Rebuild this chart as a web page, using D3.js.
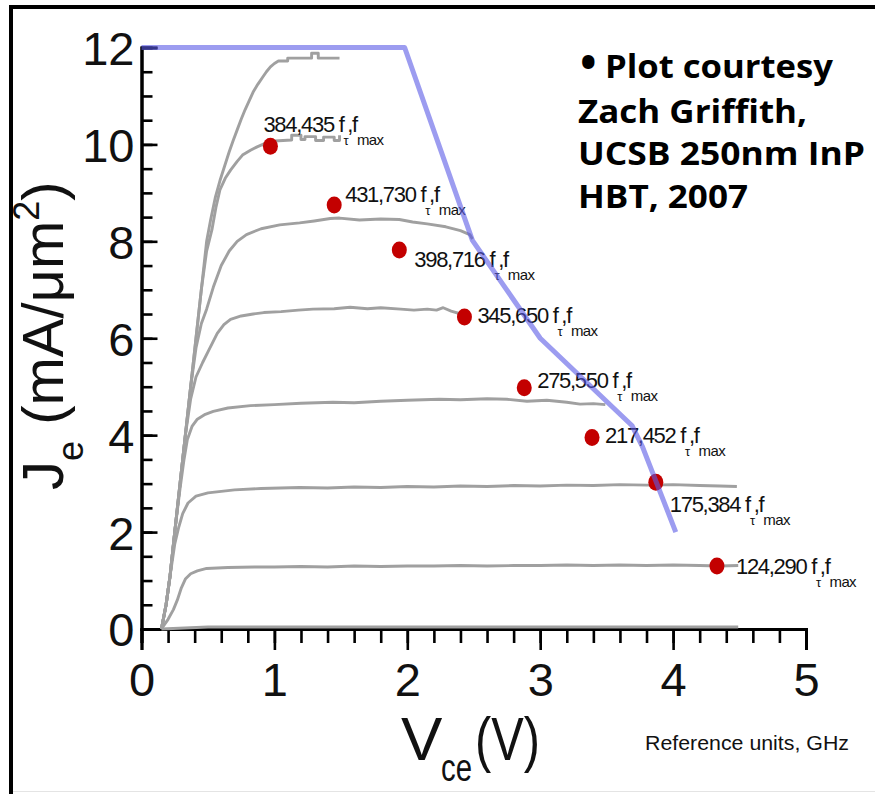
<!DOCTYPE html>
<html>
<head>
<meta charset="utf-8">
<script src="https://cdn.jsdelivr.net/npm/d3@7"></script>
<style>
  body { margin: 0; background: #fff; }
  svg { display: block; }
</style>
</head>
<body>
<svg id="chart" width="875" height="794"></svg>
<script>
// ---- data ----------------------------------------------------------------
const vceTicks = [0, 1, 2, 3, 4, 5];
const jeTicks = [0, 2, 4, 6, 8, 10, 12];

// Measured Je–Vce curves, [Vce (V), Je (mA/um^2)]
const curveJ118 = [[0.15,0],[0.185,0.5],[0.215,1.1],[0.25,2.0],[0.29,3.0],[0.33,4.0],[0.37,5.0],[0.41,6.0],[0.45,7.0],[0.49,8.0],[0.52,8.44],[0.555,8.9],[0.59,9.25],[0.625,9.55],[0.66,9.85],[0.69,10.08],[0.72,10.3],[0.75,10.52],[0.78,10.72],[0.81,10.9],[0.84,11.08],[0.875,11.24],[0.91,11.38],[0.94,11.5],[0.97,11.6],[1.0,11.67],[1.03,11.72],[1.1,11.72],[1.1,11.78],[1.28,11.78],[1.28,11.88],[1.33,11.88],[1.33,11.78],[1.49,11.78]];
const curveJ101 = [[0.15,0],[0.185,0.5],[0.215,1.1],[0.25,2.0],[0.29,3.0],[0.33,4.0],[0.37,5.0],[0.41,6.0],[0.45,7.0],[0.49,7.8],[0.53,8.24],[0.56,8.7],[0.59,9.06],[0.63,9.3],[0.67,9.47],[0.72,9.65],[0.76,9.78],[0.82,9.88],[0.87,9.95],[0.93,10.02],[1.0,10.07],[1.13,10.09],[1.13,10.19],[1.2,10.19],[1.2,10.1],[1.23,10.1],[1.23,10.16],[1.31,10.16],[1.31,10.08],[1.37,10.08],[1.37,10.15],[1.45,10.15],[1.45,10.08],[1.49,10.08],[1.49,10.19]];
const curveJ84 = [[0.15,0],[0.185,0.5],[0.215,1.1],[0.25,2.0],[0.29,3.0],[0.33,4.0],[0.37,5.0],[0.41,5.8],[0.45,6.3],[0.49,6.6],[0.54,7.05],[0.6,7.5],[0.66,7.8],[0.72,8.0],[0.79,8.14],[0.9,8.26],[1.04,8.34],[1.19,8.38],[1.3,8.42],[1.42,8.47],[1.49,8.48],[1.64,8.44],[1.8,8.46],[1.94,8.45],[2.04,8.4],[2.15,8.36],[2.29,8.3],[2.4,8.22],[2.47,8.14],[2.49,8.05]];
const curveJ66 = [[0.15,0],[0.185,0.5],[0.215,1.1],[0.25,2.0],[0.29,3.0],[0.33,4.0],[0.37,4.75],[0.41,5.2],[0.46,5.5],[0.5,5.72],[0.57,6.1],[0.62,6.28],[0.67,6.39],[0.75,6.46],[0.84,6.5],[0.92,6.53],[1.05,6.55],[1.18,6.58],[1.29,6.6],[1.45,6.61],[1.57,6.64],[1.7,6.61],[1.8,6.63],[1.95,6.6],[2.05,6.58],[2.15,6.6],[2.22,6.58],[2.27,6.63],[2.33,6.56],[2.43,6.48]];
const curveJ47 = [[0.15,0],[0.185,0.5],[0.215,1.1],[0.25,2.0],[0.29,2.9],[0.32,3.5],[0.345,3.91],[0.38,4.18],[0.42,4.33],[0.48,4.43],[0.54,4.49],[0.65,4.56],[0.82,4.61],[1.0,4.63],[1.2,4.66],[1.44,4.68],[1.6,4.67],[1.8,4.7],[2.0,4.72],[2.24,4.74],[2.4,4.73],[2.6,4.75],[2.75,4.74],[2.9,4.7],[3.05,4.72],[3.2,4.68],[3.3,4.64],[3.4,4.65],[3.49,4.63]];
const curveJ29 = [[0.15,0],[0.185,0.5],[0.215,1.1],[0.25,1.75],[0.28,2.1],[0.31,2.38],[0.35,2.6],[0.41,2.74],[0.5,2.81],[0.7,2.87],[0.9,2.9],[1.19,2.92],[1.4,2.91],[1.6,2.93],[1.8,2.92],[2.0,2.94],[2.2,2.93],[2.4,2.95],[2.6,2.94],[2.8,2.96],[3.0,2.95],[3.2,2.97],[3.4,2.96],[3.6,2.98],[3.8,2.97],[4.0,2.98],[4.2,2.96],[4.35,2.95],[4.48,2.94]];
const curveJ13 = [[0.15,0],[0.2,0.2],[0.24,0.4],[0.27,0.6],[0.3,0.85],[0.33,1.03],[0.37,1.14],[0.42,1.2],[0.49,1.25],[0.65,1.27],[0.85,1.28],[1.0,1.28],[1.2,1.29],[1.4,1.28],[1.6,1.3],[1.8,1.29],[2.0,1.3],[2.2,1.3],[2.4,1.31],[2.6,1.3],[2.8,1.31],[3.0,1.31],[3.2,1.32],[3.4,1.31],[3.6,1.32],[3.8,1.31],[4.0,1.32],[4.2,1.31],[4.35,1.3],[4.49,1.31]];
const curveJ0 = [[0.15,0],[0.5,0.04],[4.49,0.04]];

// Safe-operating boundary
const limitLine = [[0,12],[1.98,12],[2.49,8.02],[3.0,6.0],[3.69,4.2],[3.77,3.76],[4.02,2.0]];

// Bias points with measured fT, fmax (GHz)
const biasVce = [0.97, 1.45, 1.94, 2.43, 2.88, 3.39, 3.87, 4.33];
const biasJe  = [9.96, 8.75, 7.82, 6.44, 4.98, 3.95, 3.03, 1.30];
const biasFreq = ["384,435", "431,730", "398,716", "345,650", "275,550", "217,452", "175,384", "124,290"];

// ---- layout ----------------------------------------------------------------
const labelShift = [[-7,-14],[11,-3],[15,17],[13,6],[13,0],[13,5],[14,30],[19,8]];

const svg = d3.select("#chart");
const x = d3.scaleLinear().domain([0, 5]).range([141.5, 806]);
const y = d3.scaleLinear().domain([0, 12]).range([629, 47.5]);

// frame
svg.append("rect").attr("x", 9).attr("y", 5).attr("width", 866).attr("height", 4).attr("fill", "#000");
svg.append("rect").attr("x", 9).attr("y", 5).attr("width", 4).attr("height", 789).attr("fill", "#000");
svg.append("rect").attr("x", 13).attr("y", 791).attr("width", 862).attr("height", 1).attr("fill", "#e4e4e4");

const axisFont = "'Liberation Sans', Arial, sans-serif";

// x axis: minor ticks, then major ticks with labels
const xMinor = svg.append("g").attr("transform", `translate(0,${y(0)})`)
  .call(d3.axisBottom(x).tickValues(d3.range(0, 5.001, 0.2)).tickSize(14).tickFormat(""));
const xMajor = svg.append("g").attr("transform", `translate(0,${y(0)})`)
  .call(d3.axisBottom(x).tickValues(vceTicks).tickSize(21).tickPadding(13).tickFormat(d3.format("d")));
[xMinor, xMajor].forEach(g => {
  g.selectAll("path.domain").attr("stroke", "#000").attr("stroke-width", 3);
  g.selectAll(".tick line").attr("stroke", "#000").attr("stroke-width", 2.6);
});
xMajor.selectAll(".tick text").attr("font-family", axisFont).attr("font-size", 47).attr("fill", "#111");

// y axis: ticks point inward
const yMinor = svg.append("g").attr("transform", `translate(${x(0)},0)`)
  .call(d3.axisLeft(y).tickValues(d3.range(0, 12.001, 0.5)).tickSize(-11).tickFormat(""));
const yMajor = svg.append("g").attr("transform", `translate(${x(0)},0)`)
  .call(d3.axisLeft(y).tickValues(jeTicks).tickSize(-16).tickPadding(7).tickFormat(d3.format("d")));
[yMinor, yMajor].forEach(g => {
  g.selectAll("path.domain").attr("stroke", "#000").attr("stroke-width", 3);
  g.selectAll(".tick line").attr("stroke", "#000").attr("stroke-width", 2.6);
});
yMajor.selectAll(".tick text").attr("font-family", axisFont).attr("font-size", 47).attr("fill", "#111").attr("dy", "0.36em");

// measured curves
const line = d3.line().x(d => x(d[0])).y(d => y(d[1]));
const curves = [curveJ118, curveJ101, curveJ84, curveJ66, curveJ47, curveJ29, curveJ13, curveJ0];
svg.append("g").selectAll("path").data(curves).join("path")
  .attr("d", line)
  .attr("fill", "none")
  .attr("stroke", "#a0a0a0")
  .attr("stroke-width", 2.9)
  .attr("stroke-linejoin", "round");

// bias points
const bias = biasVce.map((v, i) => ({ v, j: biasJe[i], f: biasFreq[i], s: labelShift[i] }));
svg.append("g").selectAll("ellipse").data(bias).join("ellipse")
  .attr("cx", d => x(d.v)).attr("cy", d => y(d.j))
  .attr("rx", 7.5).attr("ry", 8.5)
  .attr("fill", "#c30000");

// fT, fmax labels
const lab = svg.append("g").selectAll("text").data(bias).join("text")
  .attr("x", d => x(d.v) + d.s[0])
  .attr("y", d => y(d.j) + d.s[1])
  .attr("font-family", axisFont)
  .attr("font-size", 22)
  .attr("letter-spacing", -1.3)
  .attr("fill", "#111");
lab.append("tspan").text(d => d.f + " f");
lab.append("tspan").attr("font-size", 13).attr("dy", 13).text("τ");
lab.append("tspan").attr("font-size", 22).attr("dy", -13).text(",f");
lab.append("tspan").attr("font-size", 15).attr("dy", 13).attr("letter-spacing", -0.6).text("max");

// boundary line
svg.append("path")
  .datum(limitLine)
  .attr("d", line)
  .attr("fill", "none")
  .attr("stroke", "#5a5ae6")
  .attr("stroke-opacity", 0.6)
  .attr("stroke-width", 5)
  .attr("stroke-linejoin", "round");

// axis titles
const xt = svg.append("text").attr("font-family", axisFont).attr("fill", "#111");
xt.append("tspan").attr("x", 401).attr("y", 760).attr("font-size", 62).text("V");
xt.append("tspan").attr("x", 441).attr("y", 781).attr("font-size", 38)
  .attr("textLength", 31).attr("lengthAdjust", "spacingAndGlyphs").text("ce");
xt.append("tspan").attr("x", 475).attr("y", 760).attr("font-size", 62)
  .attr("textLength", 65).attr("lengthAdjust", "spacingAndGlyphs").text("(V)");

const yt = svg.append("text").attr("font-family", axisFont).attr("fill", "#111")
  .attr("transform", "translate(63,490) rotate(-90)");
yt.append("tspan").attr("x", 0).attr("y", 0).attr("font-size", 58).text("J");
yt.append("tspan").attr("font-size", 36).attr("dy", 20).text("e");
yt.append("tspan").attr("font-size", 58).attr("dy", -20).text(" (mA/μm");
yt.append("tspan").attr("font-size", 36).attr("dy", -24).text("2");
yt.append("tspan").attr("font-size", 58).attr("dy", 24).text(")");

svg.append("text").attr("x", 645).attr("y", 750)
  .attr("font-family", axisFont).attr("font-size", 21).attr("fill", "#111")
  .attr("textLength", 204).attr("lengthAdjust", "spacingAndGlyphs")
  .text("Reference units, GHz");

// credit note
const noteFont = "'Open Sans', 'Noto Sans', sans-serif";
svg.append("text").attr("x", 580).attr("y", 78).attr("font-family", noteFont)
  .attr("font-size", 44).attr("font-weight", 700).attr("fill", "#000").text("•");
const noteLines = [
  { t: "Plot courtesy", x: 605, y: 78, w: 228 },
  { t: "Zach Griffith,", x: 578, y: 123, w: 229 },
  { t: "UCSB 250nm InP", x: 578, y: 165, w: 287 },
  { t: "HBT, 2007", x: 578, y: 208, w: 170 }
];
svg.append("g").selectAll("text").data(noteLines).join("text")
  .attr("x", d => d.x).attr("y", d => d.y)
  .attr("font-family", noteFont).attr("font-size", 32).attr("font-weight", 700)
  .attr("fill", "#000")
  .attr("textLength", d => d.w).attr("lengthAdjust", "spacingAndGlyphs")
  .text(d => d.t);
</script>
</body>
</html>
